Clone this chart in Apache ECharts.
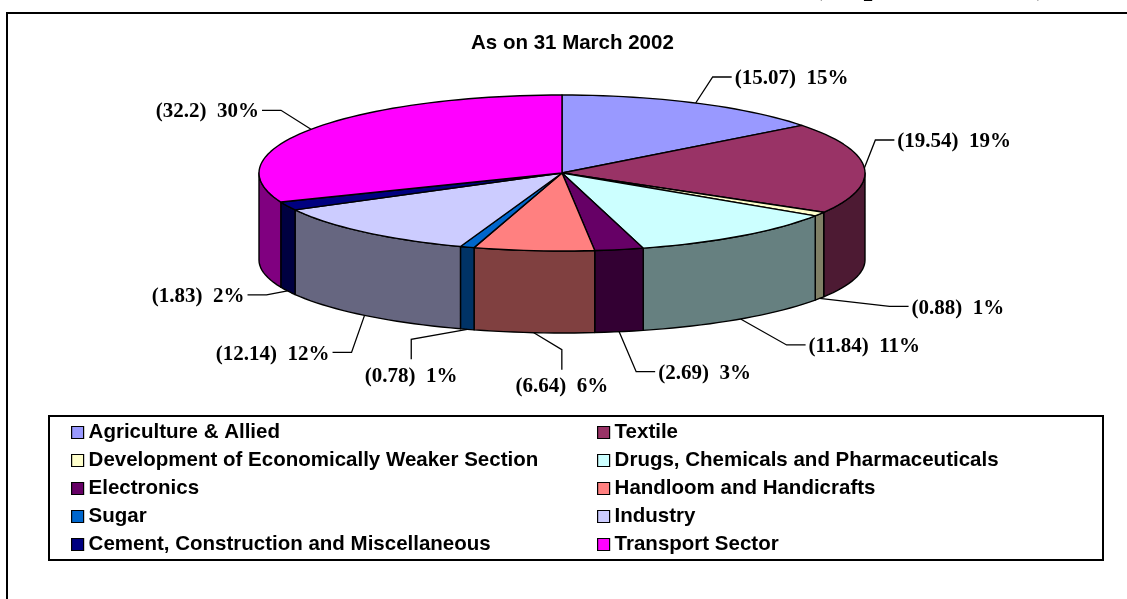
<!DOCTYPE html>
<html><head><meta charset="utf-8">
<script src="https://cdn.jsdelivr.net/npm/echarts@6/dist/echarts.min.js"></script>
<style>html,body{margin:0;padding:0;background:#fff}#c{width:1127px;height:599px}</style>
</head><body><div id="c"></div>
<script>
// ---- data ----
const categories = ['Agriculture & Allied','Textile','Development of Economically Weaker Section','Drugs, Chemicals and Pharmaceuticals','Electronics','Handloom and Handicrafts','Sugar','Industry','Cement, Construction and Miscellaneous','Transport Sector'];
const values = [15.07, 19.54, 0.88, 11.84, 2.69, 6.64, 0.78, 12.14, 1.83, 32.2];
const percentLabels = [15, 19, 1, 11, 3, 6, 1, 12, 2, 30];
const titleText = 'As on 31 March 2002';
const unitText = '(Rupees in crore)';

// ---- style ----
const colors = ['#9999FF','#993366','#FFFFCC','#CCFFFF','#660066','#FF8080','#0066CC','#CCCCFF','#000080','#FF00FF'];
// leader-line elbow offsets from rim anchor, and text side
const labelLayout = [[17,-26,'r'],[11,-28,'r'],[70,8,'r'],[46,26,'r'],[17,40,'r'],[28,17,'b'],[-56,10,'b'],[-13,37,'l'],[-21,4,'l'],[-30,-19,'l']];
const RY = 78, RYB = 73, DEPTH = 87;
const labelFont = {fontFamily:'"Liberation Serif","Times New Roman",serif', fontWeight:'bold', fontSize:20};

const total = values.reduce((a,b)=>a+b,0);
const cum = []; values.reduce((a,v,i)=>{cum[i]=a; return a+v;},0);

function darken(hex){
  const n = parseInt(hex.slice(1),16);
  const r=(n>>16)&255, g=(n>>8)&255, b=n&255;
  return 'rgb('+Math.round(r*0.5)+','+Math.round(g*0.5)+','+Math.round(b*0.5)+')';
}

function renderSlice(idx){
  return function(params, api){
    const s = api.value(1), e = api.value(2);
    const cs = params.coordSys; const cx = cs.cx, cy = cs.cy, R = cs.r;
    const pt = (v, top) => { const p = api.coord([1, v]); const dy = p[1]-cy;
      return top ? [p[0], cy + dy*RY/R] : [p[0], cy + DEPTH + dy*RYB/R]; };
    const arc = (a,b,top) => { const n = Math.max(2, Math.ceil((b-a)/total*180)); const out=[];
      for(let k=0;k<=n;k++) out.push(pt(a+(b-a)*k/n, top)); return out; };
    const children = [];
    const ws = Math.max(s, total/4), we = Math.min(e, 3*total/4);
    if (we > ws) {
      const pts = arc(ws,we,true).concat(arc(ws,we,false).reverse());
      children.push({type:'polygon', z2:1, shape:{points:pts},
        style:{fill:darken(colors[idx]), stroke:'#000', lineWidth:1.4, lineJoin:'round'}});
    }
    children.push({type:'polygon', z2:5, shape:{points:[[cx,cy]].concat(arc(s,e,true))},
      style:{fill:colors[idx], stroke:'#000', lineWidth:1.4, lineJoin:'round'}});
    // label
    const mid = (s+e)/2, f = mid/total;
    const front = f > 0.25 && f < 0.75;
    const a = pt(mid, !front);
    const L = labelLayout[idx];
    const el = [a[0]+L[0], a[1]+L[1]];
    let end, tx, ty, align, valign;
    if (L[2]==='r'){ end=[el[0]+19, el[1]]; tx=end[0]+3; ty=el[1]+2; align='left'; valign='middle'; }
    else if (L[2]==='l'){ end=[el[0]-19, el[1]]; tx=end[0]-3; ty=el[1]+2; align='right'; valign='middle'; }
    else { end=[el[0], el[1]+20]; tx=el[0]; ty=end[1]+7; align='center'; valign='top'; }
    children.push({type:'polyline', z2:8, shape:{points:[a, el, end]}, style:{stroke:'#000', lineWidth:1.3, fill:null}});
    children.push({type:'text', z2:9, x:tx, y:ty, scaleX:1.05,
      style:Object.assign({text:'(' + values[idx] + ')  ' + percentLabels[idx] + '%', fill:'#000', align:align, verticalAlign:valign}, labelFont)});
    return {type:'group', children};
  };
}

const legendCommon = {orient:'vertical', icon:'rect', itemWidth:12, itemHeight:12, itemGap:7, padding:0,
  selectedMode:false,
  textStyle:{fontFamily:'"Liberation Sans",Arial,sans-serif', fontWeight:'bold', fontSize:20.5, color:'#000', lineHeight:20},
  itemStyle:{borderColor:'#000', borderWidth:1.2}};

const chart = echarts.init(document.getElementById('c'), null, {renderer:'canvas'});
chart.setOption({
  animation:false,
  backgroundColor:'#fff',
  title:{text:titleText, left:471, top:33, padding:0,
    textStyle:{fontFamily:'"Liberation Sans",Arial,sans-serif', fontWeight:'bold', fontSize:20.5, color:'#000'}},
  polar:{center:[562,173], radius:303},
  angleAxis:{type:'value', min:0, max:total, startAngle:90, clockwise:true, show:false},
  radiusAxis:{type:'value', min:0, max:1, show:false},
  legend:[
    Object.assign({left:71, top:422, data:categories.filter((_,i)=>i%2===0)}, legendCommon),
    Object.assign({left:597, top:422, data:categories.filter((_,i)=>i%2===1)}, legendCommon)
  ],
  graphic:[
    {type:'polyline', shape:{points:[[7,599],[7,13],[1127,13]]}, style:{stroke:'#000', lineWidth:2, fill:null}},
    {type:'rect', shape:{x:49, y:416, width:1054, height:144}, style:{stroke:'#000', lineWidth:2, fill:null}},
    {type:'text', x:812, y:2, style:{text:unitText, fill:'#000', font:'bold 32px "Liberation Serif","Times New Roman",serif', verticalAlign:'bottom'}}
  ],
  series: categories.map((name,i)=>({
    type:'custom', name:name, coordinateSystem:'polar', silent:true,
    itemStyle:{color:colors[i]},
    data:[[1, cum[i], cum[i]+values[i]]],
    renderItem: renderSlice(i)
  }))
});
</script>
</body></html>
